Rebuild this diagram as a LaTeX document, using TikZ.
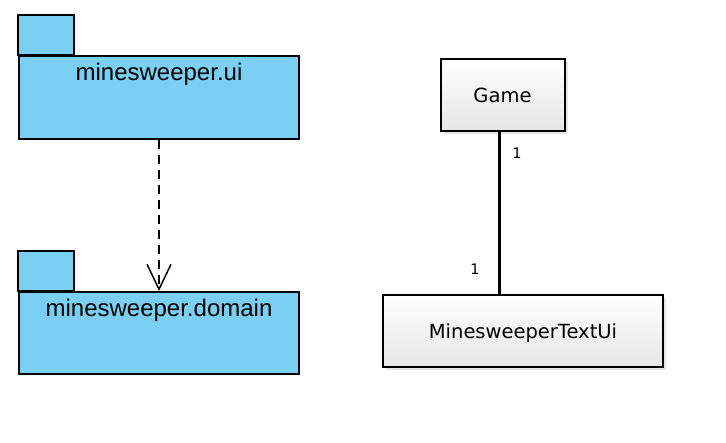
\documentclass[tikz,border=0pt]{standalone}
\usepackage{fontspec}
\setmainfont{Liberation Sans}
\newfontfamily\clsfont{DejaVu Sans}
\usetikzlibrary{arrows.meta,shadows}
\definecolor{pkgblue}{RGB}{122,207,243}
\tikzset{
  pkg/.style={draw=black, line width=2pt, fill=pkgblue},
  pkgname/.style={anchor=base, font=\fontsize{24}{28}\selectfont},
  cls/.style={draw=black, line width=2pt, top color=white, bottom color=black!10,
    drop shadow={shadow xshift=3pt, shadow yshift=-3pt, opacity=0.2, fill=gray},
    text depth=0pt, font=\clsfont\fontsize{19.5}{23}\selectfont},
  mult/.style={font=\clsfont\fontsize{14.5}{17}\selectfont},
  dep/.style={line width=1.5pt, dash pattern=on 9pt off 6pt,
    -{Straight Barb[length=25pt, width=24pt, line width=1.5pt]}}
}
\begin{document}
\begin{tikzpicture}[x=1pt,y=-1pt]
\useasboundingbox (0,0) rectangle (726,443);
% packages
\draw[pkg] (18,15) rectangle (74,55);
\node[pkg, anchor=north west, minimum width=280pt, minimum height=83pt] (ui) at (18,55) {};
\node[pkgname] (uiname) at ([yshift=-26pt]ui.north) {minesweeper.ui};
\draw[pkg] (18,251) rectangle (74,291);
\node[pkg, anchor=north west, minimum width=280pt, minimum height=82pt] (domain) at (18,291) {};
\node[pkgname] (domainname) at ([yshift=-26pt]domain.north) {minesweeper.domain};
\draw[dep] (ui.south) -- (domain.north);
% classes
\node[cls, minimum width=124pt, minimum height=72pt] (game) at (502.5,95) {Game};
\node[cls, minimum width=280pt, minimum height=72pt] (textui) at (523,331) {MinesweeperTextUi};
\draw[line width=3pt] (game.south -| 499,0) -- (textui.north -| 499,0);
\node[mult] (gamemult) at (517,153) {1};
\node[mult] (uimult) at (475,269) {1};
\end{tikzpicture}
\end{document}
